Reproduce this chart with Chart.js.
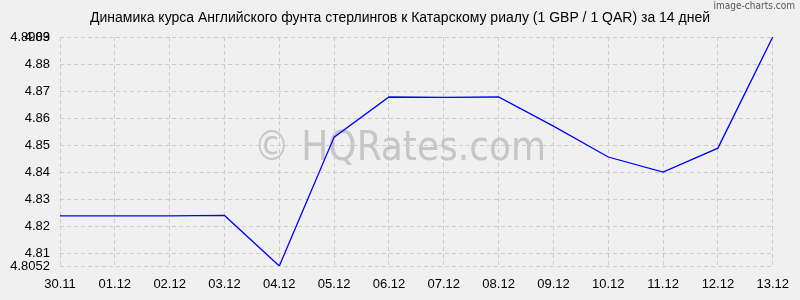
<!DOCTYPE html>
<html>
<head>
    <meta charset="UTF-8">
    <title>GBP / QAR</title>
    <script src="https://cdn.jsdelivr.net/npm/chart.js"></script>
    <style>
        html, body { margin: 0; padding: 0; background: #f0f0f0; }
        .chart-container { width: 800px; height: 300px; }
    </style>
</head>
<body>
    <div class="chart-container">
        <canvas id="rateChart" width="800" height="300"></canvas>
    </div>

    <script type="text/javascript">
        const dates = ['30.11', '01.12', '02.12', '03.12', '04.12', '05.12', '06.12',
                       '07.12', '08.12', '09.12', '10.12', '11.12', '12.12', '13.12'];
        const rates = [4.8238, 4.8238, 4.8238, 4.8240, 4.8052, 4.8531, 4.8680,
                       4.8679, 4.8680, 4.8572, 4.8457, 4.8401, 4.8490, 4.8903];
        const yTicks = [4.8052, 4.81, 4.82, 4.83, 4.84, 4.85, 4.86, 4.87, 4.88, 4.89, 4.8903];
        const titleText = 'Динамика курса Английского фунта стерлингов к Катарскому риалу (1 GBP / 1 QAR) за 14 дней';

        // background, title, watermark
        const decor = {
            id: 'decor',
            beforeDraw(chart) {
                const ctx = chart.ctx;
                ctx.save();
                ctx.fillStyle = '#f0f0f0';
                ctx.fillRect(0, 0, chart.width, chart.height);
                ctx.fillStyle = '#000';
                ctx.font = '14px "Liberation Sans", Arial, sans-serif';
                ctx.textAlign = 'center';
                ctx.textBaseline = 'middle';
                ctx.fillText(titleText, 400, 18);
                ctx.fillStyle = '#555';
                ctx.font = '10px "DejaVu Sans Condensed", "DejaVu Sans", sans-serif';
                ctx.textAlign = 'right';
                ctx.fillText('image-charts.com', 795, 6);
                ctx.restore();
            },
            beforeDatasetsDraw(chart) {
                const ctx = chart.ctx;
                ctx.save();
                ctx.fillStyle = '#c6c6c6';
                ctx.font = '40px "DejaVu Sans Condensed", "DejaVu Sans", sans-serif';
                ctx.textAlign = 'center';
                ctx.textBaseline = 'alphabetic';
                ctx.fillText('© HQRates.com', 400, 160);
                ctx.restore();
            }
        };

        const ctx = document.getElementById('rateChart').getContext('2d');
        new Chart(ctx, {
            type: 'line',
            data: {
                labels: dates,
                datasets: [{
                    data: rates,
                    borderColor: '#0000ff',
                    borderWidth: 1.3,
                    pointRadius: 0,
                    tension: 0,
                    fill: false
                }]
            },
            options: {
                responsive: false,
                animation: false,
                layout: { padding: { top: 37, right: 21, left: 0, bottom: 0 } },
                plugins: {
                    legend: { display: false },
                    tooltip: { enabled: false }
                },
                scales: {
                    x: {
                        offset: false,
                        grid: { color: '#cccccc', drawTicks: false },
                        border: { display: false, dash: [4, 3] },
                        ticks: {
                            color: '#000',
                            font: { family: '"Liberation Sans", Arial, sans-serif', size: 13 },
                            padding: 11,
                            maxRotation: 0,
                            autoSkip: false
                        },
                        afterFit(s) { s.height = 34; }
                    },
                    y: {
                        min: 4.8052,
                        max: 4.8903,
                        grid: { color: '#cccccc', drawTicks: false },
                        border: { display: false, dash: [4, 3] },
                        afterBuildTicks(s) { s.ticks = yTicks.map(v => ({ value: v })); },
                        ticks: {
                            color: '#000',
                            font: { family: '"Liberation Sans", Arial, sans-serif', size: 13 },
                            padding: 10,
                            callback: v => String(v)
                        },
                        afterFit(s) { s.width = 60; }
                    }
                }
            },
            plugins: [decor]
        });
    </script>
</body>
</html>
